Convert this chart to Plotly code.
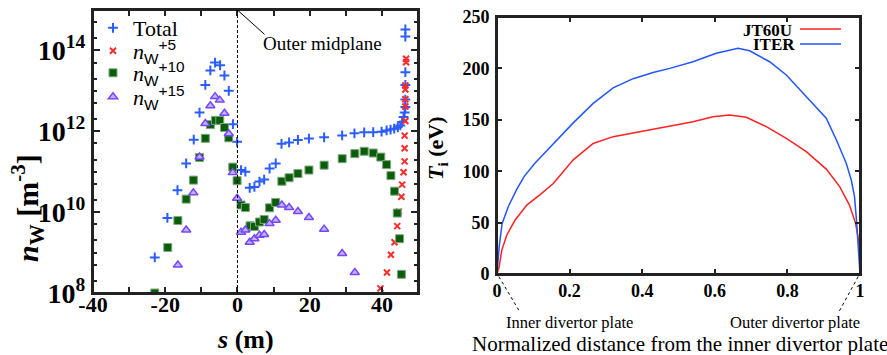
import plotly.graph_objects as go

W, H = 887, 355

# ---------------- Left panel data: tungsten density along s ----------------
s_total = [-22.9, -19.4, -16.6, -14.2, -12.1, -10.5, -8.9, -7.5, -6.2, -4.8, -3.6, -2.4,
           -1.25, -0.1, 1.0, 2.2, 3.4, 4.7, 6.1, 7.4, 8.9, 10.6, 12.2, 14.3, 16.75, 19.8,
           24.0, 29.0, 32.4, 35.1, 37.6, 39.9, 41.3, 42.4, 43.4, 44.4, 45.1, 45.6, 46.0,
           46.3, 46.5, 46.5, 46.5, 46.5, 46.5, 46.5]
n_total = [7.6e8, 7.2e9, 3.5e10, 1.6e11, 6.2e11, 2.9e12, 1.4e13, 3.2e13, 5.0e13, 4.3e13,
           2.4e13, 1.0e13, 1.5e12, 5.5e11, 1.1e11, 1.0e11, 4.0e10, 4.2e10, 5.7e10, 6.4e10,
           1.2e11, 1.6e11, 4.9e11, 5.3e11, 6.1e11, 6.6e11, 7.1e11, 7.9e11, 8.9e11, 9.4e11,
           9.5e11, 9.8e11, 1.05e12, 1.1e12, 1.16e12, 1.25e12, 1.4e12, 1.7e12, 2.25e12,
           2.9e12, 4.0e12, 6.1e12, 1.4e13, 2.9e13, 2.2e14, 3.3e14]

s_w5 = [39.6, 41.4, 42.5, 43.5, 44.25, 44.7, 45.4, 45.6, 46.0, 46.3, 46.3, 46.3, 46.5,
        46.5, 46.5, 46.5, 46.5, 46.7, 46.7]
n_w5 = [1.3e8, 3.2e8, 8.8e8, 1.8e9, 4.5e9, 1.03e10, 2.4e10, 4.8e10, 9.7e10, 1.8e11,
        3.8e11, 7.8e11, 1.8e12, 4.1e12, 6.2e12, 1.08e13, 1.36e13, 5.1e13, 6.2e13]

s_w10 = [-22.9, -19.3, -16.5, -14.2, -12.2, -10.5, -8.9, -7.5, -6.1, -4.9, -3.6, -2.4,
         -1.3, -0.1, 1.0, 2.2, 3.5, 4.7, 6.1, 7.4, 8.9, 10.6, 12.3, 14.3, 16.75, 19.8,
         24.0, 29.0, 32.5, 35.1, 37.6, 39.7, 41.3, 42.5, 43.5, 44.25, 44.9, 45.4]
n_w10 = [1.0e8, 1.34e9, 6.2e9, 2.1e10, 6.2e10, 2.25e11, 6.7e11, 1.46e12, 1.86e12, 1.86e12,
         1.24e12, 6.9e11, 1.3e11, 6.0e10, 1.5e10, 1.3e10, 4.6e9, 4.4e9, 5.7e9, 6.6e9,
         1.28e10, 1.74e10, 5.8e10, 7.1e10, 9.0e10, 1.1e11, 1.45e11, 2.1e11, 2.8e11,
         3.2e11, 2.9e11, 2.3e11, 1.5e11, 8.0e10, 3.3e10, 9.5e9, 2.2e9, 2.9e8]

s_w15 = [-16.5, -14.2, -12.2, -10.5, -8.9, -7.5, -6.2, -4.9, -3.6, -2.4, -1.3, -0.1, 1.0,
         2.2, 3.4, 4.7, 6.1, 7.4, 8.9, 10.6, 12.3, 14.3, 16.75, 19.8, 24.0, 29.0, 32.5]
n_w15 = [4.9e8, 3.6e9, 3.0e10, 2.3e11, 1.55e12, 4.3e12, 7.2e12, 5.9e12, 2.8e12, 8.7e11,
         9.5e10, 2.2e10, 3.2e9, 3.6e9, 1.8e9, 2.2e9, 2.7e9, 2.8e9, 5.2e9, 6.3e9, 1.5e10,
         1.3e10, 1.04e10, 7.4e9, 3.8e9, 9.5e8, 3.2e8]

left_xticks = [-40, -20, 0, 20, 40]
left_xticktext = ["-40", "-20", "0", "20", "40"]
left_yticks = [1e8, 1e10, 1e12, 1e14]
left_yticktext = ["10<sup>8</sup>", "10<sup>10</sup>", "10<sup>12</sup>", "10<sup>14</sup>"]

# ---------------- Right panel data: ion temperature ----------------
x_iter = [0, 0.003, 0.006, 0.014, 0.031, 0.054, 0.075, 0.105, 0.155, 0.21, 0.265, 0.32,
          0.375, 0.43, 0.476, 0.54, 0.604, 0.664, 0.696, 0.751, 0.797, 0.852, 0.907,
          0.935, 0.962, 0.976, 0.985, 0.991, 0.996, 1.0]
t_iter = [0, 15, 26.5, 49, 65.5, 82, 95, 108, 127, 147, 166, 181, 190, 196, 200, 206.5,
          214.7, 219.6, 217.2, 206.5, 193.6, 172.5, 151.5, 130.4, 107.7, 91.4, 75, 49,
          23, 0]
x_jt = [0, 0.002, 0.006, 0.013, 0.027, 0.05, 0.082, 0.118, 0.155, 0.21, 0.265, 0.32,
        0.393, 0.476, 0.54, 0.595, 0.641, 0.687, 0.742, 0.797, 0.852, 0.907, 0.944, 0.971,
        0.988, 0.996, 0.9995, 1.0]
t_jt = [0, 3, 7, 23, 38, 52.5, 67, 77, 88, 111, 127, 133.6, 138.4, 144, 148.2, 153,
        154.7, 152.4, 143.3, 132, 119, 102, 85, 67, 49, 33, 14, 0]

right_xticks = [0, 0.2, 0.4, 0.6, 0.8, 1]
right_xticktext = ["0", "0.2", "0.4", "0.6", "0.8", "1"]
right_yticks = [0, 50, 100, 150, 200, 250]

SERIF = "Liberation Serif"
SANS = "Liberation Sans"


def px(x):
    return x / W


def py(y):
    return 1 - y / H


def nlabel(charge):
    return ('<i>n</i><sub><span style="font-family:%s">W</span></sub>'
            '<sup><span style="font-family:%s">+%d</span></sup>' % (SANS, SANS, charge))


fig = go.Figure()

fig.add_trace(go.Scatter(
    x=s_total, y=n_total, mode="markers", name="Total", legend="legend",
    marker=dict(symbol="cross-thin", size=7, line=dict(color="#2a5cff", width=2)),
    xaxis="x", yaxis="y"))
fig.add_trace(go.Scatter(
    x=s_w5, y=n_w5, mode="markers", name=nlabel(5), legend="legend2",
    marker=dict(symbol="x-thin", size=6, line=dict(color="#ff2a2a", width=2)),
    xaxis="x", yaxis="y"))
fig.add_trace(go.Scatter(
    x=s_w10, y=n_w10, mode="markers", name=nlabel(10), legend="legend3",
    marker=dict(symbol="square", size=8, color="#0b5d0b",
                line=dict(color="#7fa97f", width=1)),
    xaxis="x", yaxis="y"))
fig.add_trace(go.Scatter(
    x=s_w15, y=n_w15, mode="markers", name=nlabel(15), legend="legend4",
    marker=dict(symbol="triangle-up", size=8, color="#c4b2ff",
                line=dict(color="#7448ff", width=1.5)),
    xaxis="x", yaxis="y"))

fig.add_trace(go.Scatter(
    x=x_jt, y=t_jt, mode="lines", name="JT60U", showlegend=False,
    line=dict(color="#ff2222", width=1.5), xaxis="x2", yaxis="y2"))
fig.add_trace(go.Scatter(
    x=x_iter, y=t_iter, mode="lines", name="ITER", showlegend=False,
    line=dict(color="#2255ff", width=1.5), xaxis="x2", yaxis="y2"))

# minor ticks for log axis: 1, 2, 5 x 10^n
minor_log = []
for e in range(8, 15):
    for m in (1, 2, 5):
        minor_log.append(m * 10 ** e)
minor_log.append(1e15)

axis_common = dict(showline=True, linecolor="#222", linewidth=2, mirror="allticks",
                   ticks="inside", tickcolor="#222", showgrid=False, zeroline=False,
                   automargin=False)

legend_common = dict(bgcolor="rgba(0,0,0,0)", borderwidth=0, xanchor="left",
                     yanchor="middle", itemwidth=30,
                     font=dict(family=SERIF, size=22, color="black"))
leg_x = px(93)

fig.update_layout(
    template="simple_white",
    width=W, height=H, margin=dict(l=0, r=0, t=0, b=0, autoexpand=False),
    paper_bgcolor="white", plot_bgcolor="white",
    font=dict(family=SERIF, color="black"),
    xaxis=dict(domain=[px(93), px(418)], range=[-40, 50], tickvals=left_xticks,
               ticktext=left_xticktext, ticklen=6, tickwidth=1.5,
               minor=dict(dtick=10, tick0=0, ticks="inside", ticklen=6, tickcolor="#222"),
               tickfont=dict(family=SERIF, size=22, weight="bold"),
               ticklabelstandoff=-9, anchor="y", **axis_common),
    yaxis=dict(domain=[py(293), py(10)], type="log", range=[8, 15],
               tickvals=left_yticks, ticktext=left_yticktext, ticklen=7, tickwidth=1.5,
               minor=dict(tickvals=minor_log, ticks="inside", ticklen=4, tickcolor="#222"),
               tickfont=dict(family=SERIF, size=28, weight="bold"),
               anchor="x", **axis_common),
    xaxis2=dict(domain=[px(497), px(860)], range=[0, 1], tickvals=right_xticks,
                ticktext=right_xticktext, ticklen=5, tickwidth=1.5,
                tickfont=dict(family=SERIF, size=18, weight="bold"),
                ticklabelstandoff=-1, anchor="y2", **axis_common),
    yaxis2=dict(domain=[py(274), py(17)], range=[0, 250], tickvals=right_yticks,
                ticklen=5, tickwidth=1.5,
                tickfont=dict(family=SERIF, size=18, weight="bold"),
                ticklabelstandoff=2, anchor="x2", **axis_common),
    legend=dict(x=leg_x, y=py(28), **legend_common),
    legend2=dict(x=leg_x, y=py(51), **legend_common),
    legend3=dict(x=leg_x, y=py(73), **legend_common),
    legend4=dict(x=leg_x, y=py(97), **legend_common),
)

NOFILL = "rgba(0,0,0,0)"
shapes = [
    # plot frames
    dict(type="rect", xref="x domain", yref="y domain", x0=0, x1=1, y0=0, y1=1,
         line=dict(color="#222", width=2), fillcolor=NOFILL, opacity=1, layer="above"),
    dict(type="rect", xref="x2 domain", yref="y2 domain", x0=0, x1=1, y0=0, y1=1,
         line=dict(color="#222", width=2), fillcolor=NOFILL, opacity=1, layer="above"),
    # outer midplane dashed line
    dict(type="line", xref="x", yref="y domain", x0=0, x1=0, y0=0, y1=1, opacity=1,
         line=dict(color="black", width=1, dash="3px,2px")),
    # leader line to "Outer midplane"
    dict(type="line", xref="x", yref="y", x0=0, y0=1e15, x1=7.5, y1=2.5e14, opacity=1,
         line=dict(color="black", width=1)),
    # leader lines to divertor plate labels
    dict(type="line", xref="x2 domain", yref="y2 domain", x0=0.005, y0=-0.01,
         x1=0.063, y1=-0.148, opacity=1, line=dict(color="black", width=1, dash="dot")),
    dict(type="line", xref="x2 domain", yref="y2 domain", x0=0.995, y0=-0.01,
         x1=0.94, y1=-0.152, opacity=1, line=dict(color="black", width=1, dash="dot")),
    # right legend sample lines
    dict(type="line", xref="paper", yref="paper", x0=px(800), x1=px(841),
         y0=py(29), y1=py(29), opacity=1, line=dict(color="#ff2222", width=1.5)),
    dict(type="line", xref="paper", yref="paper", x0=px(800), x1=px(841),
         y0=py(44), y1=py(44), opacity=1, line=dict(color="#2255ff", width=1.5)),
]


def ann(text, x, y, size, bold=False, angle=0, xanchor="center"):
    f = dict(family=SERIF, size=size, color="black")
    if bold:
        f["weight"] = "bold"
    return dict(text=text, x=px(x), y=py(y), xref="paper", yref="paper",
                showarrow=False, textangle=angle, xanchor=xanchor, yanchor="middle",
                font=f)


annotations = [
    ann("Outer midplane", 322, 43, 19),
    ann('<i>n</i><sub>W</sub> [m<sup>-3</sup>]', 27, 208, 30, bold=True, angle=-90),
    ann("<i>s</i> (m)", 245, 339, 26, bold=True),
    ann('<i>T</i><sub>i</sub> (eV)', 437, 148, 22, bold=True, angle=-90),
    ann("Normalized distance from the inner divertor plate", 680, 344, 21),
    ann("Inner divertor plate", 569, 322, 16.5),
    ann("Outer divertor plate", 795, 322, 16.5),
    ann("JT60U", 794, 30, 17, bold=True, xanchor="right"),
    ann("ITER", 797, 44, 17, bold=True, xanchor="right"),
]

fig.update_layout(shapes=shapes, annotations=annotations)

fig.write_html("out.html", config={"displayModeBar": False},
               post_script="document.body.style.margin='0px';"
                           "document.body.style.overflow='hidden';")
